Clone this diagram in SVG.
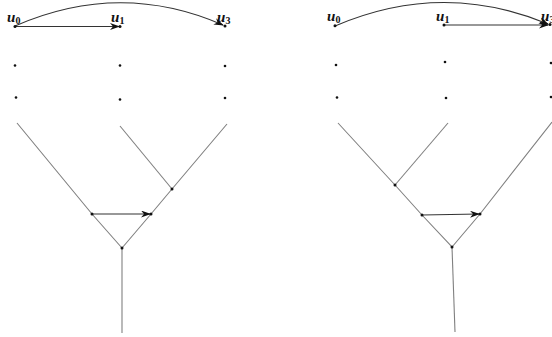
<svg xmlns="http://www.w3.org/2000/svg" width="552" height="337" viewBox="0 0 552 337">
<defs>
<style>
.ln{stroke:#808080;stroke-width:1.1;fill:none}
.ar{stroke:#333;stroke-width:1.1;fill:none}
.dot{fill:#111}
.lb{font-family:"Liberation Serif",serif;font-style:italic;font-weight:bold;font-size:15px;fill:#111}
.sb{font-family:"Liberation Serif",serif;font-weight:bold;font-size:10px;fill:#111}
</style>
<marker id="ah" viewBox="0 0 10 7" refX="9" refY="3.5" markerWidth="10" markerHeight="7" markerUnits="userSpaceOnUse" orient="auto">
<path d="M0,0 L10,3.5 L0,7 L3,3.5 z" fill="#111"/>
</marker>
</defs>
<g id="connectors">
<path class="ar" d="M15,26 Q120,-20 223,25" marker-end="url(#ah)"/>
<line class="ar" x1="15" y1="26.5" x2="119" y2="26.5" marker-end="url(#ah)"/>
<polyline class="ln" points="17,123 92,214 122,248 151,214 172,189 227,124"/>
<line class="ln" x1="120" y1="126" x2="172" y2="189"/>
<line class="ln" x1="122" y1="248" x2="122" y2="333"/>
<line class="ar" x1="92" y1="214" x2="150" y2="214" marker-end="url(#ah)"/>
<path class="ar" d="M335,26 Q442,-20 548,24" marker-end="url(#ah)"/>
<line class="ar" x1="444" y1="25" x2="548" y2="25" marker-end="url(#ah)"/>
<polyline class="ln" points="338,123 395,185 422,215 452,247 480,214 552,122"/>
<line class="ln" x1="448" y1="123" x2="395" y2="185"/>
<line class="ln" x1="452" y1="247" x2="455" y2="332"/>
<line class="ar" x1="422" y1="215" x2="479" y2="214" marker-end="url(#ah)"/>
</g>
<g id="left-top">
<circle class="dot" cx="15" cy="26.5" r="1.5"/><circle class="dot" cx="120" cy="26.5" r="1.5"/><circle class="dot" cx="225" cy="26" r="1.5"/>
<circle class="dot" cx="15" cy="65.5" r="1.3"/><circle class="dot" cx="120" cy="65.5" r="1.3"/><circle class="dot" cx="225" cy="66" r="1.3"/>
<circle class="dot" cx="16" cy="97.5" r="1.3"/><circle class="dot" cx="120" cy="99.5" r="1.3"/><circle class="dot" cx="225" cy="98" r="1.3"/>
<text class="lb" x="7" y="22">u</text><text class="sb" x="15.5" y="24">0</text>
<text class="lb" x="111" y="22">u</text><text class="sb" x="119.5" y="24">1</text>
<text class="lb" x="217" y="22">u</text><text class="sb" x="225.5" y="24">3</text>
</g>
<g id="left-tree">
<circle class="dot" cx="92" cy="214" r="1.5"/><circle class="dot" cx="151" cy="214" r="1.5"/><circle class="dot" cx="172" cy="189" r="1.5"/><circle class="dot" cx="122" cy="248" r="1.5"/>
</g>
<g id="right-top">
<circle class="dot" cx="335" cy="25.7" r="1.5"/><circle class="dot" cx="444" cy="25" r="1.5"/><circle class="dot" cx="550" cy="24.5" r="1.5"/>
<circle class="dot" cx="336" cy="65" r="1.3"/><circle class="dot" cx="445" cy="62" r="1.3"/><circle class="dot" cx="551" cy="63" r="1.3"/>
<circle class="dot" cx="337" cy="97.5" r="1.3"/><circle class="dot" cx="446" cy="98" r="1.3"/><circle class="dot" cx="551" cy="97" r="1.3"/>
<text class="lb" x="327" y="21">u</text><text class="sb" x="335.5" y="23">0</text>
<text class="lb" x="436" y="21">u</text><text class="sb" x="444.5" y="23">1</text>
<text class="lb" x="541" y="21">u</text><text class="sb" x="549.5" y="23">3</text>
</g>
<g id="right-tree">
<circle class="dot" cx="395" cy="185" r="1.5"/><circle class="dot" cx="422" cy="215" r="1.5"/><circle class="dot" cx="480" cy="214" r="1.5"/><circle class="dot" cx="452" cy="247" r="1.5"/>
</g>
</svg>
